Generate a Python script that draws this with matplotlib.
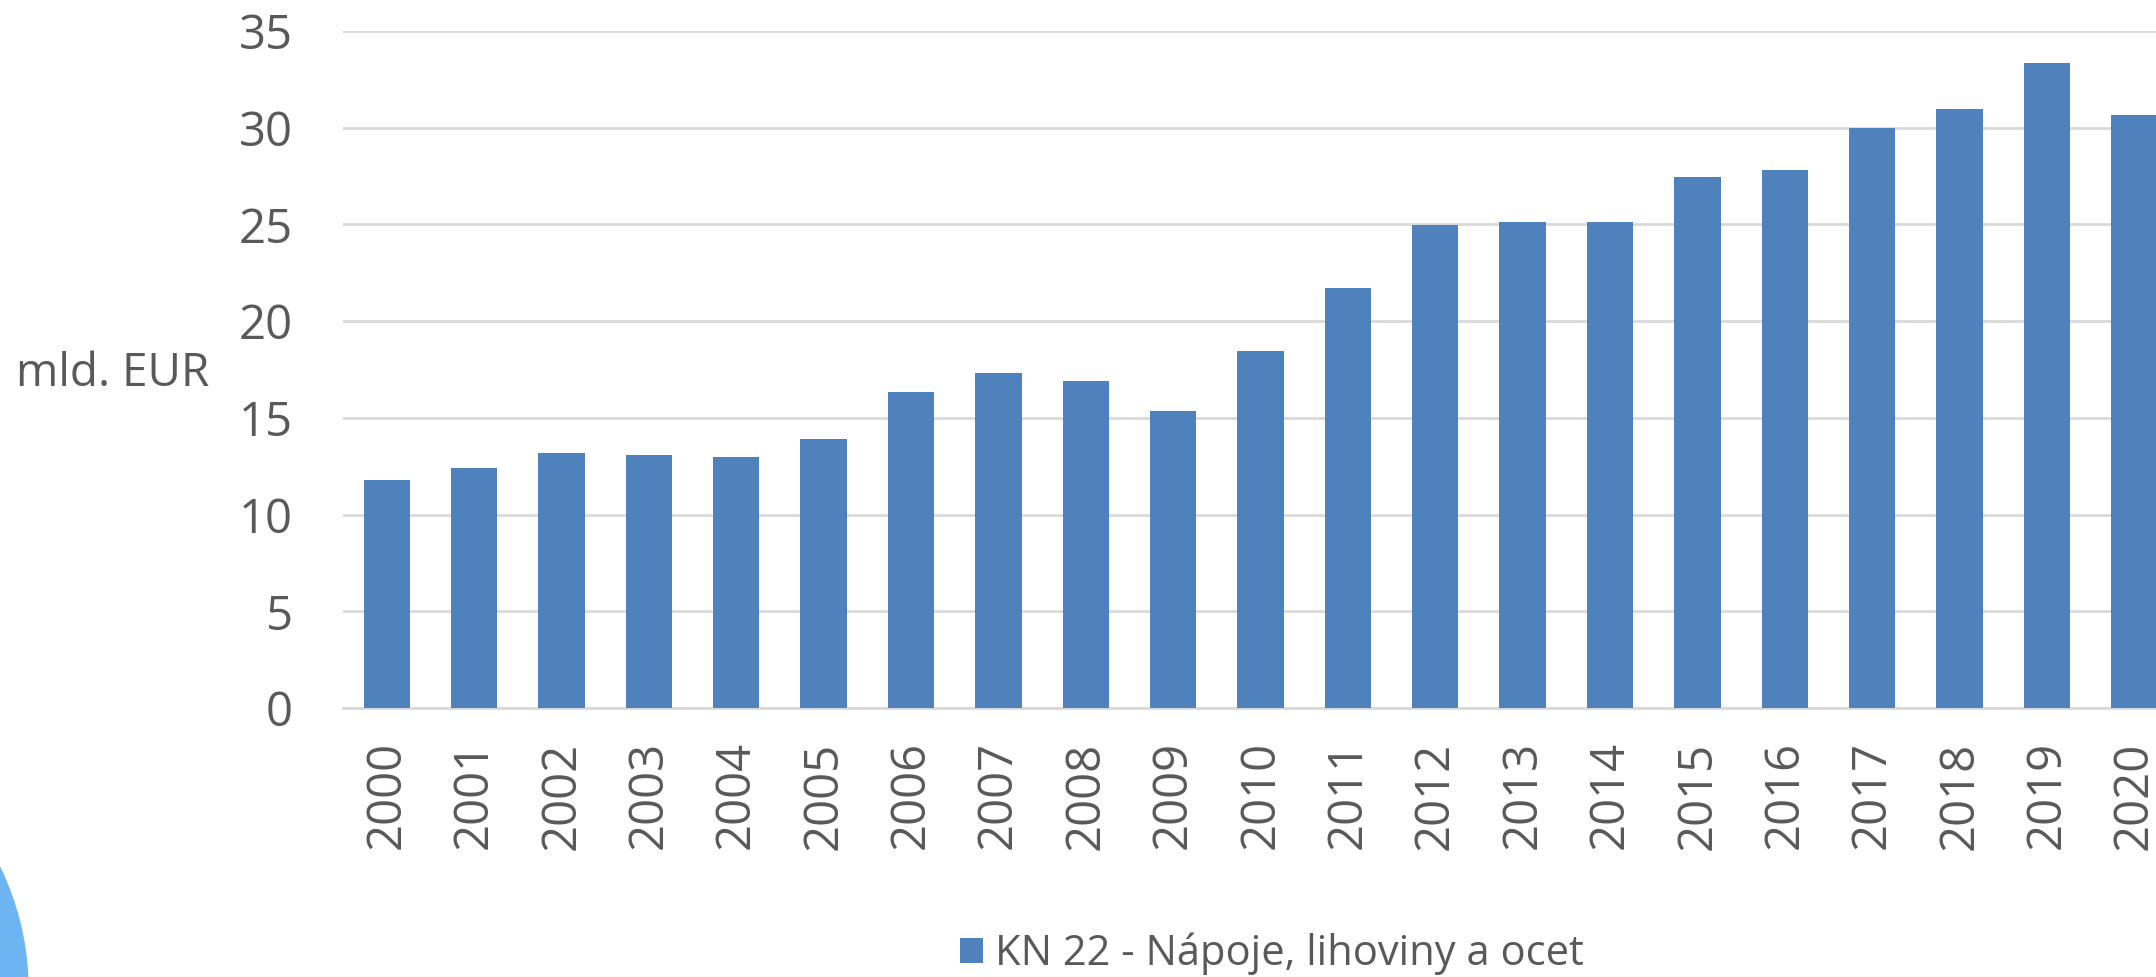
import matplotlib.pyplot as plt
from matplotlib.patches import Ellipse

# Values (mld. EUR)
years = [str(y) for y in range(2000, 2021)]
values = [11.78, 12.42, 13.2, 13.06, 12.99, 13.91, 16.33, 17.32, 16.9, 15.33,
          18.46, 21.72, 24.99, 25.13, 25.13, 27.47, 27.83, 29.96, 30.95, 33.32, 30.68]
series_name = 'KN 22 - Nápoje, lihoviny a ocet'
y_ticks = [0, 5, 10, 15, 20, 25, 30, 35]

plt.rcParams['font.family'] = ['Open Sans', 'DejaVu Sans']
text_color = '#595959'
W, H = 2156, 977

fig = plt.figure(figsize=(W / 100, H / 100), dpi=100)
# axes spans slightly beyond the right edge, as in the cropped original
left, right, bottom, top = 343 / W, 2178 / W, 1 - 708 / H, 1 - 31 / H
ax = fig.add_axes([left, bottom, right - left, top - bottom])

x = range(len(years))
bars = ax.bar(x, values, width=0.53, color='#4F81BD', label=series_name, zorder=3)

ax.set_xlim(-0.5, len(years) - 0.5)
ax.set_ylim(0, 35)
ax.set_yticks(y_ticks)
ax.set_xticks(list(x))
ax.set_xticklabels(years, rotation=90)
ax.tick_params(axis='y', length=0, pad=36, labelsize=34, labelcolor=text_color)
ax.tick_params(axis='x', length=0, pad=24, labelsize=34, labelcolor=text_color)
for lab in ax.get_xticklabels():
    lab.set_verticalalignment('top')

ax.grid(axis='y', color='#D9D9D9', linewidth=2, zorder=0)
for side in ['left', 'right', 'top']:
    ax.spines[side].set_visible(False)
ax.spines['bottom'].set_color('#D9D9D9')
ax.spines['bottom'].set_linewidth(2)

fig.text(16 / W, 1 - 374 / H, 'mld. EUR', fontsize=33, color=text_color,
         ha='left', va='center')

fig.legend(handles=[bars], labels=[series_name], loc='center',
           bbox_to_anchor=(1272 / W, 1 - 954 / H), frameon=False,
           fontsize=30, labelcolor=text_color, handlelength=0.55,
           handleheight=0.55, handletextpad=0.3)

# decorative circle peeking in at the bottom-left of the slide
fig.patches.append(Ellipse((-253 / W, 1 - 990 / H), 2 * 281 / W, 2 * 281 / H,
                           transform=fig.transFigure, color='#6DB4F2', zorder=0))

fig.savefig('out.png', dpi=100)
